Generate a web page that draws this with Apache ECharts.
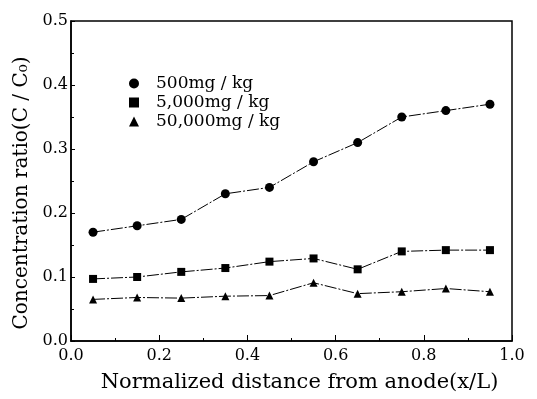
<!DOCTYPE html>
<html><head><meta charset="utf-8">
<script src="https://cdn.jsdelivr.net/npm/echarts@6/dist/echarts.min.js"></script>
<style>html,body{margin:0;padding:0;background:#fff}#c{width:537px;height:399px}</style>
</head><body><div id="c"></div>
<script>
const xValues = [0.05, 0.15, 0.25, 0.35, 0.45, 0.55, 0.65, 0.75, 0.85, 0.95];
const s500 = [0.17, 0.18, 0.19, 0.23, 0.24, 0.28, 0.31, 0.35, 0.36, 0.37];
const s5000 = [0.097, 0.100, 0.108, 0.114, 0.124, 0.129, 0.112, 0.140, 0.142, 0.142];
const s50000 = [0.065, 0.068, 0.067, 0.070, 0.071, 0.091, 0.074, 0.077, 0.082, 0.077];
const seriesNames = ['500mg / kg', '5,000mg / kg', '50,000mg / kg'];
const xTitle = 'Normalized distance from anode(x/L)';
const yTitle = 'Concentration ratio(C / C\u2080)';

const font = 'DejaVu Serif';
const pairs = arr => xValues.map((x, i) => [x, arr[i]]);
const lineStyle = {color: '#000', width: 1, type: [12, 2, 2, 2]};
const chart = echarts.init(document.getElementById('c'));
chart.setOption({
  animation: false,
  backgroundColor: '#fff',
  grid: {left: 71, right: 25, top: 21, bottom: 58, show: true, borderColor: '#000', borderWidth: 1.5},
  legend: {
    orient: 'vertical', left: 124, top: 70, itemGap: 2, itemWidth: 10, itemHeight: 10,
    textStyle: {fontFamily: font, fontSize: 17, color: '#000', padding: [0, 0, 0, 12]},
    data: [
      {name: seriesNames[0], icon: 'circle'},
      {name: seriesNames[1], icon: 'rect'},
      {name: seriesNames[2], icon: 'triangle'}
    ]
  },
  xAxis: {
    type: 'value', min: 0, max: 1, interval: 0.2,
    name: xTitle, nameLocation: 'middle', nameGap: 31,
    nameTextStyle: {fontFamily: font, fontSize: 21, color: '#000', padding: [0, 0, 0, 16]},
    axisLine: {lineStyle: {color: '#000', width: 1.5}},
    axisTick: {inside: true, length: 6, lineStyle: {color: '#000'}},
    minorTick: {show: true, splitNumber: 2, length: 3, lineStyle: {color: '#000'}},
    axisLabel: {fontFamily: font, fontSize: 16, color: '#000', margin: 7, formatter: v => v.toFixed(1)},
    splitLine: {show: false}
  },
  yAxis: {
    type: 'value', min: 0, max: 0.5, interval: 0.1,
    name: yTitle, nameLocation: 'middle', nameGap: 37, nameRotate: 90,
    nameTextStyle: {fontFamily: font, fontSize: 20, color: '#000', padding: [0, 24, 0, 0]},
    axisLine: {show: true, lineStyle: {color: '#000', width: 1.5}},
    axisTick: {inside: true, length: 4, lineStyle: {color: '#000'}},
    minorTick: {show: true, splitNumber: 2, length: 3, lineStyle: {color: '#000'}},
    axisLabel: {fontFamily: font, fontSize: 16, color: '#000', margin: 3, formatter: v => v.toFixed(1)},
    splitLine: {show: false}
  },
  series: [
    {name: seriesNames[0], type: 'line', data: pairs(s500), symbol: 'circle', symbolSize: 9,
     itemStyle: {color: '#000'}, lineStyle: lineStyle},
    {name: seriesNames[1], type: 'line', data: pairs(s5000), symbol: 'rect', symbolSize: 8,
     itemStyle: {color: '#000'}, lineStyle: lineStyle},
    {name: seriesNames[2], type: 'line', data: pairs(s50000), symbol: 'triangle', symbolSize: 8,
     itemStyle: {color: '#000'}, lineStyle: lineStyle}
  ]
});
</script></body></html>
